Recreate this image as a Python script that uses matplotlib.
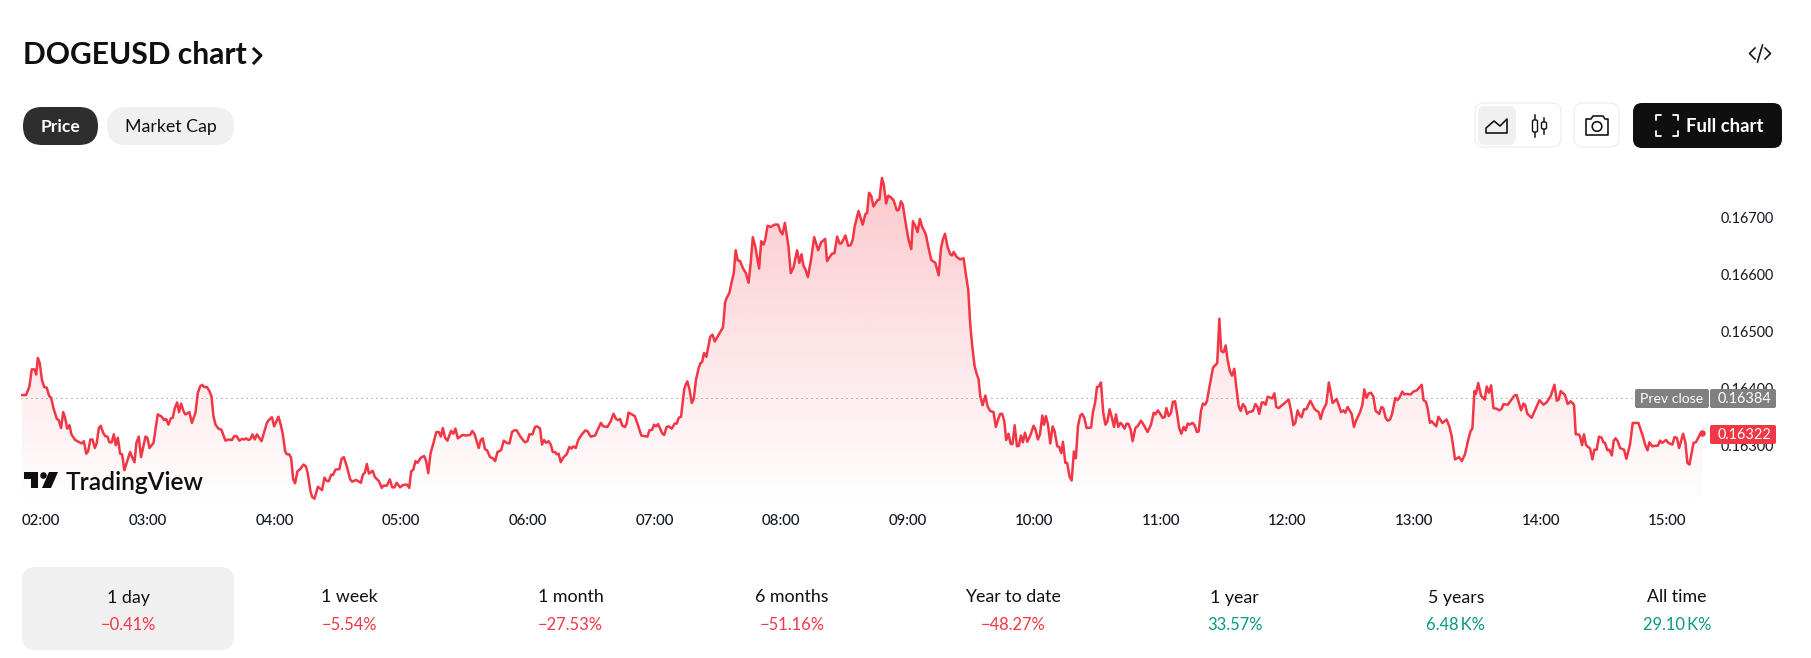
import numpy as np
import matplotlib
matplotlib.use('Agg')
import matplotlib.pyplot as plt
from matplotlib.patches import FancyBboxPatch, Polygon, Circle

plt.rcParams['font.family'] = ['Lato', 'DejaVu Sans']

# minutes after 02:00
minutos = [
    0.3, 2.2, 3.8, 4.9, 6.2, 7.0, 7.8, 8.7, 9.7, 10.8, 12.0, 13.1,
    14.1, 15.2, 16.8, 17.7, 18.8, 19.8, 20.7, 21.7, 22.8, 23.7, 25.5, 27.5,
    28.6, 29.6, 30.7, 31.6, 32.7, 33.7, 34.8, 35.7, 36.7, 37.6, 38.7, 39.7,
    40.8, 41.7, 42.8, 43.8, 44.7, 45.7, 46.8, 47.7, 48.8, 49.9, 51.5, 52.6,
    53.6, 54.5, 55.6, 56.7, 58.8, 59.7, 60.7, 62.6, 64.6, 66.5, 67.6, 68.6,
    69.7, 70.8, 71.7, 72.7, 73.8, 74.7, 75.7, 76.8, 77.7, 79.6, 80.8, 82.5,
    83.6, 84.7, 85.6, 86.6, 87.9, 89.1, 90.1, 91.0, 92.0, 93.4, 94.8, 96.7,
    98.1, 99.7, 100.9, 101.9, 103.3, 104.6, 105.7, 106.5, 107.6, 108.6, 109.5, 110.6,
    111.6, 113.8, 116.3, 117.2, 118.7, 119.8, 121.8, 122.9, 123.9, 125.0, 125.8, 126.9,
    127.8, 128.8, 129.7, 130.8, 132.1, 133.7, 134.8, 135.7, 137.0, 137.8, 138.9, 140.5,
    142.5, 143.6, 144.7, 145.7, 146.8, 147.7, 148.8, 150.7, 151.7, 152.8, 154.2, 155.8,
    156.7, 158.6, 160.9, 161.8, 162.8, 163.7, 164.7, 166.5, 167.5, 169.4, 170.8, 171.6,
    173.2, 174.6, 175.7, 176.8, 177.8, 179.5, 180.8, 182.7, 183.8, 184.7, 185.7, 186.8,
    187.7, 189.3, 190.9, 191.8, 192.8, 193.9, 195.3, 196.6, 197.8, 198.8, 199.7, 200.8,
    201.9, 203.6, 204.7, 205.7, 206.8, 209.1, 210.7, 212.6, 213.7, 214.8, 216.7, 217.7,
    218.6, 219.7, 220.7, 222.1, 223.4, 224.5, 225.6, 227.3, 228.6, 230.0, 231.3, 232.5,
    233.5, 234.7, 236.3, 237.9, 238.7, 239.8, 240.7, 242.2, 243.4, 244.5, 245.8, 246.7,
    247.7, 248.6, 249.8, 250.9, 251.8, 252.9, 253.7, 254.6, 255.6, 256.7, 258.4, 259.7,
    260.7, 261.6, 262.7, 264.0, 265.6, 267.3, 268.2, 269.8, 271.9, 273.1, 274.6, 275.8,
    277.7, 279.3, 280.6, 281.8, 282.9, 283.7, 284.8, 286.1, 286.9, 287.7, 289.3, 290.7,
    292.3, 293.8, 295.1, 296.7, 297.6, 298.9, 299.8, 300.8, 301.7, 302.7, 303.8, 304.6,
    305.8, 306.8, 308.2, 309.6, 310.6, 311.5, 312.6, 314.1, 314.8, 315.6, 316.6, 317.7,
    318.6, 319.7, 321.0, 321.8, 322.6, 323.5, 324.6, 326.4, 327.5, 328.6, 330.5, 332.5,
    333.5, 334.3, 335.5, 336.7, 337.6, 338.5, 339.5, 340.6, 341.9, 343.3, 344.6, 345.7,
    346.6, 347.7, 349.6, 350.6, 351.7, 352.5, 353.6, 355.1, 356.9, 358.6, 359.6, 360.7,
    361.8, 363.5, 364.6, 365.9, 367.6, 368.7, 369.7, 370.6, 371.6, 372.7, 374.1, 375.7,
    377.6, 379.0, 380.9, 381.8, 384.1, 385.3, 386.6, 387.7, 388.6, 390.5, 391.8, 393.0,
    394.0, 394.9, 396.7, 398.7, 399.9, 400.8, 401.7, 402.7, 403.8, 405.7, 406.6, 407.8,
    408.7, 409.8, 410.8, 412.0, 413.3, 414.9, 415.8, 416.8, 417.7, 418.9, 420.4, 421.7,
    422.5, 423.6, 424.7, 425.8, 426.8, 428.6, 429.9, 431.2, 433.1, 434.7, 435.8, 436.7,
    437.7, 438.9, 440.2, 441.0, 441.8, 443.3, 444.9, 446.5, 447.6, 448.7, 449.7, 450.6,
    451.7, 452.8, 453.6, 454.4, 455.5, 456.8, 457.9, 459.1, 460.7, 461.8, 463.1, 463.9,
    464.8, 465.8, 466.7, 467.8, 468.8, 469.7, 470.7, 471.8, 472.7, 473.7, 474.6, 475.6,
    476.7, 478.1, 479.7, 480.6, 481.7, 482.7, 483.8, 484.6, 485.5, 486.5, 487.6, 488.7,
    489.6, 490.9, 491.8, 492.8, 493.6, 494.7, 495.6, 496.7, 497.7, 498.8, 499.7, 500.7,
    501.8, 502.7, 503.7, 504.8, 506.9, 507.8, 508.8, 509.7, 510.6, 511.6, 512.7, 513.7,
    514.6, 515.7, 516.8, 517.8, 518.7, 519.8, 520.8, 521.7, 522.8, 523.8, 524.7, 525.7,
    526.6, 527.9, 529.1, 530.6, 531.8, 533.7, 535.3, 536.6, 537.4, 538.6, 539.7, 540.8,
    541.8, 542.6, 543.7, 544.8, 545.7, 546.7, 547.6, 548.7, 549.7, 550.8, 551.7, 552.7,
    553.6, 555.0, 556.0, 557.1, 557.9, 559.0, 559.9, 561.0, 561.8, 562.8, 564.7, 566.7,
    567.7, 568.6, 569.7, 570.7, 571.6, 572.7, 573.7, 574.8, 575.7, 576.9, 577.8, 578.9,
    579.9, 580.8, 581.7, 583.6, 584.8, 585.7, 586.6, 587.8, 588.7, 589.6, 590.6, 592.7,
    593.8, 594.7, 595.8, 600.6, 601.7, 602.8, 603.7, 604.8, 605.8, 606.7, 607.8, 608.9,
    610.8, 612.9, 614.8, 615.7, 616.8, 618.4, 619.6, 621.4, 623.3, 625.4, 626.5, 627.4,
    628.5, 630.4, 631.5, 632.5, 634.4, 635.5, 636.4, 637.4, 638.5, 639.6, 640.7, 641.8,
    643.5, 644.5, 645.4, 646.5, 647.5, 648.6, 649.5, 651.1, 652.1, 653.0, 654.4, 655.4,
    656.5, 658.4, 659.6, 661.2, 663.6, 664.5, 665.6, 666.4, 667.5, 668.3, 670.5, 671.5,
    673.4, 675.4, 676.7, 677.8, 679.4, 681.3, 682.6, 684.1, 685.7, 686.8, 687.6, 688.6,
    689.3, 690.4, 691.7, 693.5, 694.4, 695.4, 696.5, 697.6, 699.1, 700.4, 701.5, 702.3,
    704.4, 706.3, 707.5, 708.6, 710.7, 711.8, 712.6, 713.7, 715.7, 719.4, 721.3, 722.8,
    724.7, 726.5, 727.6, 728.5, 729.5, 731.5, 732.8, 734.2, 735.8, 736.6, 737.9, 738.6,
    739.6, 740.5, 741.5, 743.4, 744.5, 745.4, 746.5, 747.6, 748.9, 749.7, 750.5, 751.6,
    752.5, 753.7, 754.6, 755.5, 756.5, 757.6, 759.5, 760.6, 762.3, 763.6, 766.3, 767.4,
    768.3, 769.5, 770.6, 771.5, 772.9, 774.5, 775.5, 776.6, 777.5, 779.4, 780.5, 782.4,
    783.4, 784.5, 785.6, 787.5, 788.6, 789.5, 790.5, 792.4, 793.5, 795.5, 796.6,
]

# price x 100000
precos = [
    16389, 16389, 16404, 16434, 16434, 16425, 16454, 16445, 16416, 16403, 16402, 16388,
    16384, 16366, 16347, 16345, 16331, 16359, 16349, 16330, 16336, 16320, 16310, 16306,
    16304, 16308, 16286, 16290, 16311, 16311, 16296, 16305, 16331, 16335, 16323, 16317,
    16316, 16306, 16306, 16320, 16301, 16314, 16286, 16285, 16257, 16270, 16289, 16279,
    16271, 16305, 16316, 16280, 16316, 16314, 16296, 16305, 16355, 16351, 16345, 16347,
    16337, 16348, 16349, 16366, 16376, 16359, 16374, 16361, 16355, 16359, 16340, 16358,
    16393, 16404, 16407, 16403, 16403, 16396, 16386, 16352, 16337, 16330, 16328, 16309,
    16311, 16310, 16317, 16317, 16309, 16312, 16311, 16313, 16310, 16312, 16320, 16311,
    16320, 16308, 16340, 16345, 16350, 16334, 16351, 16337, 16320, 16290, 16285, 16285,
    16279, 16241, 16234, 16255, 16259, 16267, 16264, 16252, 16220, 16210, 16207, 16228,
    16222, 16244, 16238, 16238, 16249, 16249, 16258, 16259, 16277, 16280, 16264, 16241,
    16237, 16240, 16235, 16249, 16253, 16268, 16251, 16256, 16245, 16238, 16226, 16230,
    16230, 16241, 16227, 16227, 16235, 16227, 16231, 16232, 16226, 16255, 16258, 16273,
    16270, 16279, 16282, 16273, 16252, 16287, 16305, 16324, 16324, 16316, 16331, 16314,
    16309, 16326, 16321, 16330, 16313, 16319, 16318, 16319, 16326, 16320, 16296, 16310,
    16313, 16294, 16292, 16280, 16278, 16273, 16289, 16292, 16309, 16305, 16304, 16324,
    16327, 16327, 16317, 16309, 16306, 16308, 16320, 16320, 16333, 16334, 16330, 16302,
    16310, 16305, 16308, 16302, 16289, 16289, 16285, 16286, 16271, 16279, 16285, 16298,
    16295, 16299, 16296, 16311, 16320, 16327, 16326, 16316, 16318, 16328, 16340, 16334,
    16333, 16343, 16356, 16347, 16345, 16347, 16335, 16333, 16340, 16358, 16355, 16352,
    16335, 16318, 16317, 16316, 16327, 16328, 16337, 16334, 16338, 16330, 16321, 16319,
    16333, 16334, 16330, 16339, 16339, 16349, 16351, 16399, 16407, 16413, 16399, 16375,
    16382, 16416, 16437, 16445, 16447, 16463, 16456, 16491, 16495, 16483, 16495, 16508,
    16552, 16560, 16568, 16589, 16603, 16643, 16625, 16624, 16612, 16603, 16586, 16624,
    16666, 16651, 16611, 16659, 16653, 16662, 16686, 16684, 16688, 16688, 16677, 16671,
    16691, 16650, 16603, 16613, 16643, 16621, 16636, 16616, 16609, 16596, 16624, 16666,
    16643, 16657, 16663, 16624, 16637, 16638, 16667, 16655, 16655, 16669, 16651, 16652,
    16662, 16685, 16712, 16688, 16706, 16709, 16744, 16739, 16720, 16731, 16732, 16770,
    16758, 16725, 16739, 16736, 16731, 16713, 16714, 16729, 16723, 16694, 16662, 16645,
    16694, 16686, 16675, 16698, 16685, 16671, 16647, 16626, 16621, 16599, 16647, 16662,
    16672, 16649, 16636, 16634, 16640, 16631, 16627, 16629, 16600, 16574, 16510, 16475,
    16440, 16425, 16417, 16387, 16371, 16388, 16369, 16361, 16359, 16333, 16349, 16356,
    16356, 16343, 16310, 16321, 16303, 16303, 16336, 16299, 16300, 16318, 16306, 16323,
    16307, 16318, 16335, 16328, 16311, 16320, 16353, 16337, 16352, 16337, 16304, 16334,
    16326, 16299, 16298, 16287, 16307, 16270, 16270, 16246, 16239, 16290, 16278, 16334,
    16353, 16356, 16349, 16331, 16332, 16359, 16375, 16403, 16404, 16411, 16358, 16337,
    16342, 16364, 16349, 16333, 16355, 16333, 16340, 16337, 16330, 16339, 16338, 16328,
    16308, 16331, 16335, 16344, 16337, 16324, 16337, 16358, 16355, 16362, 16356, 16349,
    16350, 16366, 16352, 16358, 16377, 16378, 16358, 16331, 16321, 16333, 16327, 16339,
    16337, 16340, 16336, 16324, 16325, 16361, 16374, 16372, 16378, 16399, 16437, 16445,
    16523, 16466, 16464, 16476, 16451, 16431, 16423, 16435, 16404, 16369, 16361, 16373,
    16368, 16356, 16359, 16361, 16373, 16369, 16356, 16376, 16376, 16372, 16386, 16383,
    16392, 16368, 16366, 16381, 16361, 16336, 16340, 16362, 16353, 16350, 16364, 16364,
    16379, 16364, 16359, 16347, 16362, 16374, 16411, 16375, 16382, 16359, 16362, 16358,
    16368, 16356, 16333, 16344, 16359, 16372, 16399, 16384, 16392, 16393, 16386, 16361,
    16356, 16368, 16366, 16349, 16344, 16346, 16355, 16384, 16380, 16384, 16395, 16390,
    16391, 16390, 16395, 16397, 16407, 16380, 16377, 16366, 16340, 16343, 16334, 16351,
    16340, 16346, 16334, 16317, 16276, 16280, 16273, 16285, 16311, 16326, 16330, 16396,
    16391, 16410, 16388, 16381, 16404, 16393, 16406, 16366, 16365, 16362, 16365, 16373,
    16372, 16382, 16388, 16389, 16362, 16374, 16372, 16356, 16349, 16380, 16372, 16376,
    16387, 16407, 16379, 16381, 16396, 16389, 16373, 16378, 16372, 16320, 16320, 16317,
    16301, 16320, 16301, 16295, 16276, 16293, 16293, 16316, 16314, 16306, 16305, 16292,
    16293, 16283, 16309, 16313, 16308, 16296, 16293, 16277, 16302, 16340, 16340, 16328,
    16318, 16302, 16292, 16306, 16299, 16300, 16300, 16309, 16305, 16310, 16305, 16302,
    16315, 16314, 16296, 16321, 16305, 16270, 16267, 16305, 16306, 16320, 16322,
]

fech_anterior = 0.16384
ultimo_preco = 0.16322

horas = ['02:00', '03:00', '04:00', '05:00', '06:00', '07:00', '08:00',
         '09:00', '10:00', '11:00', '12:00', '13:00', '14:00', '15:00']
ticks_preco = [0.163, 0.164, 0.165, 0.166, 0.167]

periodos = ['1 day', '1 week', '1 month', '6 months', 'Year to date', '1 year', '5 years', 'All time']
variacoes = ['\u22120.41%', '\u22125.54%', '\u221227.53%', '\u221251.16%', '\u221248.27%',
             '33.57%', '6.48\u2009K%', '29.10\u2009K%']

VERMELHO = '#F23645'
VERDE = '#089981'
PRETO = '#0F0F0F'
L, A = 1811, 658


def px(v):
    # css pixels to points
    return v * 0.72


def caixa(ax, x0, y0, x1, y1, raio, **kw):
    ax.add_patch(FancyBboxPatch((x0, y0), x1 - x0, y1 - y0,
                                boxstyle=f'round,pad=0,rounding_size={raio}', **kw))


fig = plt.figure(figsize=(L / 100, A / 100), dpi=100, facecolor='white')

# chart
esq, dir_, topo, base = 21.4, 1715, 150, 505
ax = fig.add_axes([esq / L, 1 - base / A, (dir_ - esq) / L, (base - topo) / A])
x = np.array(minutos)
y = np.array(precos) / 1e5

grad = np.zeros((256, 1, 4))
grad[..., :3] = matplotlib.colors.to_rgb(VERMELHO)
grad[:, 0, 3] = np.linspace(0.27, 0, 256)
im = ax.imshow(grad, extent=[x[0], x[-1], 0.16196, y.max()], aspect='auto', zorder=1)
im.set_clip_path(Polygon(np.vstack([[x[0], 0.16196], np.column_stack([x, y]), [x[-1], 0.16196]]),
                         transform=ax.transData))
ax.set_xlim(0, (dir_ - esq) * 0.4739)
ax.set_ylim(0.16196, 0.16819)

ax.axhline(fech_anterior, color='#787B86', lw=px(1), ls=(0, (1, 4)), zorder=2)
ax.plot(x, y, color=VERMELHO, lw=px(2.5), solid_joinstyle='round', zorder=3)
ax.plot(x[-1], ultimo_preco, 'o', color=VERMELHO, ms=px(6.5), mew=0, zorder=4)

for s in ax.spines.values():
    s.set_visible(False)
ax.patch.set_alpha(0)
ax.set_xticks(np.arange(len(horas)) * 60)
ax.set_xticklabels(horas, fontsize=px(15), color='#131722', fontweight='medium')
ax.get_xticklabels()[0].set_ha('left')
ax.set_yticks(ticks_preco)
ax.set_yticklabels([f'{t:.5f}' for t in ticks_preco], fontsize=px(14.5), color='#131722')
ax.yaxis.tick_right()
ax.tick_params(axis='x', length=0, pad=px(9))
ax.tick_params(axis='y', length=0, pad=px(6))

# page elements, in image pixels
ui = fig.add_axes([0, 0, 1, 1], zorder=5)
ui.set_xlim(0, L)
ui.set_ylim(A, 0)
ui.axis('off')

ui.text(23, 55, 'DOGEUSD chart', fontsize=px(30), fontweight='bold', color=PRETO, va='center')
ui.plot([254, 261, 254], [49, 55.5, 63], color=PRETO, lw=px(3))

# embed icon
ui.plot([1755, 1749.5, 1755], [48, 53.5, 59], color=PRETO, lw=px(1.6))
ui.plot([1765, 1770.5, 1765], [48, 53.5, 59], color=PRETO, lw=px(1.6))
ui.plot([1757.5, 1762.5], [62, 45], color=PRETO, lw=px(1.6))

# price / market cap pills
caixa(ui, 23, 107, 98, 145, 19, fc='#2E2E2E', ec='none')
ui.text(60.5, 127, 'Price', fontsize=px(17.5), color='white', ha='center', va='center', fontweight='bold')
caixa(ui, 107, 107, 234, 145, 19, fc='#F0F0F0', ec='none')
ui.text(170.5, 127, 'Market Cap', fontsize=px(17.8), color=PRETO, ha='center', va='center')

# toolbar buttons
caixa(ui, 1475, 103, 1561, 147, 9, fc='white', ec='#EBEBEB', lw=px(1))
caixa(ui, 1478, 106, 1516, 145, 7, fc='#F0F0F0', ec='none')
ui.add_patch(Polygon([(1486, 133), (1486, 128), (1494, 121), (1500, 126), (1507, 119), (1507, 133)],
                     closed=True, fc='none', ec=PRETO, lw=px(1.6), joinstyle='round'))
ui.plot([1535, 1535], [115, 137], color=PRETO, lw=px(1.5), zorder=1)
ui.add_patch(FancyBboxPatch((1532.5, 120), 5, 12, boxstyle='round,pad=0,rounding_size=1.5',
                            fc='white', ec=PRETO, lw=px(1.4), zorder=2))
ui.plot([1544, 1544], [118, 134], color=PRETO, lw=px(1.5), zorder=1)
ui.add_patch(FancyBboxPatch((1541.5, 122), 5, 7, boxstyle='round,pad=0,rounding_size=1.5',
                            fc='white', ec=PRETO, lw=px(1.4), zorder=2))

caixa(ui, 1574, 103, 1619, 147, 9, fc='white', ec='#EBEBEB', lw=px(1))
ui.add_patch(Polygon([(1586, 119), (1591, 119), (1593, 116), (1603, 116), (1605, 119), (1608, 119),
                      (1608, 135), (1586, 135)], closed=True, fc='none', ec=PRETO, lw=px(1.6),
                     joinstyle='round'))
ui.add_patch(Circle((1597, 126.5), 4.8, fc='none', ec=PRETO, lw=px(1.6)))

caixa(ui, 1633, 103, 1782, 148, 9, fc=PRETO, ec='none')
for xs, ys in [([1656, 1656, 1661], [120, 115, 115]), ([1673, 1678, 1678], [115, 115, 120]),
               ([1656, 1656, 1661], [131, 136, 136]), ([1673, 1678, 1678], [136, 136, 131])]:
    ui.plot(xs, ys, color='white', lw=px(1.8), solid_capstyle='round', solid_joinstyle='round')
ui.text(1725, 127, 'Full chart', fontsize=px(18.5), fontweight='bold', color='white', ha='center', va='center')

# price badges
caixa(ui, 1635, 389, 1709, 408, 2, fc='#808080', ec='none')
ui.text(1672, 399, 'Prev close', fontsize=px(14), color='white', ha='center', va='center')
caixa(ui, 1710, 389, 1776, 408, 2, fc='#808080', ec='none')
ui.text(1745, 399, f'{fech_anterior:.5f}', fontsize=px(14.5), color='white', ha='center', va='center')
caixa(ui, 1710, 425, 1776, 444, 2, fc=VERMELHO, ec='none')
ui.text(1745, 435, f'{ultimo_preco:.5f}', fontsize=px(14.5), color='white', ha='center', va='center')

# TradingView logo
ui.add_patch(Polygon([(24, 472), (38, 472), (38, 488), (31, 488), (31, 478.5), (24, 478.5)],
                     closed=True, fc=PRETO, ec='none'))
ui.add_patch(Circle((43.5, 475.5), 3.3, fc=PRETO, ec='none'))
ui.add_patch(Polygon([(49, 472), (58, 472), (51, 488), (42, 488)], closed=True, fc=PRETO, ec='none'))
ui.text(66, 483, 'TradingView', fontsize=px(24.5), fontweight='semibold', color=PRETO, va='center')

# period row
caixa(ui, 22, 567, 234, 650, 14, fc='#F0F0F0', ec='none')
for i, (periodo, var) in enumerate(zip(periodos, variacoes)):
    cx = 128 + 221.3 * i
    cor = VERDE if not var.startswith('\u2212') else VERMELHO
    ui.text(cx, 597.5, periodo, fontsize=px(17.8), color=PRETO, ha='center', va='center')
    ui.text(cx, 624.5, var, fontsize=px(16.5), color=cor, ha='center', va='center')

fig.savefig('out.png', dpi=100)
